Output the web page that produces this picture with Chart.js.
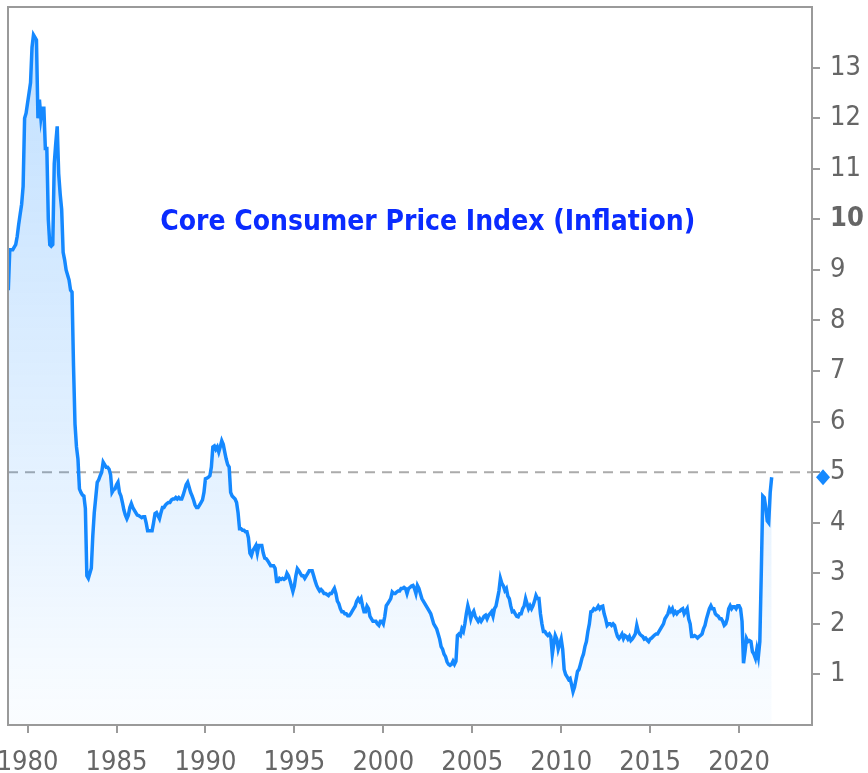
<!DOCTYPE html>
<html>
<head>
<meta charset="utf-8">
<title>Core Consumer Price Index (Inflation)</title>
<script src="https://cdn.jsdelivr.net/npm/chart.js@4.4.1/dist/chart.umd.min.js"></script>
<style>
  html, body { margin: 0; padding: 0; background: #fff; }
  #wrap { width: 868px; height: 773px; }
</style>
</head>
<body>
<div id="wrap"><canvas id="cpi" width="868" height="773"></canvas></div>
<script>
// core CPI, % change year over year, one value per month starting Dec 1978
const firstYear = 1978;
const firstMonth = 12;

const cpi1970s = [
  8.6,
  9.4, 9.4, 9.4, 9.45, 9.5, 9.66, 9.9, 10.1, 10.3, 10.65, 12.0, 12.1
];
const cpi1980s = [
  12.3, 12.5, 12.7, 13.4, 13.65, 13.6, 13.55, 12.0, 12.37, 12.0, 12.2, 12.2,
  11.4, 11.4, 10.0, 9.5, 9.47, 9.5, 11.1, 11.5, 11.84, 10.9, 10.5, 10.2,
  9.35, 9.2, 9.0, 8.9, 8.8, 8.6, 8.56, 7.1, 5.95, 5.5, 5.26, 4.67,
  4.6, 4.55, 4.53, 4.28, 2.95, 2.9, 3.0, 3.1, 3.74, 4.2, 4.5, 4.8,
  4.85, 4.93, 5.0, 5.2, 5.15, 5.1, 5.1, 5.06, 4.95, 4.6, 4.65, 4.67,
  4.75, 4.8, 4.6, 4.53, 4.4, 4.25, 4.15, 4.08, 4.15, 4.3, 4.38, 4.3,
  4.25, 4.2, 4.15, 4.14, 4.12, 4.1, 4.12, 4.12, 4.0, 3.84, 3.84, 3.84,
  3.84, 4.0, 4.18, 4.2, 4.14, 4.08, 4.2, 4.3, 4.3, 4.35, 4.38, 4.4,
  4.4, 4.45, 4.47, 4.47, 4.5, 4.47, 4.5, 4.47, 4.47, 4.55, 4.65, 4.75,
  4.8, 4.7, 4.6, 4.53, 4.45, 4.35, 4.3, 4.3, 4.35, 4.4, 4.45, 4.6
];
const cpi1990s = [
  4.87, 4.88, 4.9, 4.93, 5.1, 5.5, 5.52, 5.45, 5.5, 5.4, 5.5, 5.62,
  5.55, 5.4, 5.26, 5.15, 5.1, 4.6, 4.53, 4.5, 4.47, 4.4, 4.2, 3.88,
  3.88, 3.85, 3.85, 3.82, 3.82, 3.7, 3.4, 3.35, 3.45, 3.5, 3.55, 3.4,
  3.55, 3.55, 3.55, 3.4, 3.3, 3.29, 3.25, 3.2, 3.15, 3.15, 3.15, 3.1,
  2.84, 2.84, 2.9, 2.88, 2.9, 2.88, 2.9, 3.0, 2.95, 2.86, 2.75, 2.64,
  2.75, 2.95, 3.09, 3.05, 3.0, 2.95, 2.95, 2.9, 2.95, 3.0, 3.05, 3.05,
  3.05, 2.95, 2.85, 2.76, 2.7, 2.65, 2.68, 2.65, 2.6, 2.6, 2.58, 2.56,
  2.6, 2.6, 2.65, 2.7, 2.6, 2.45, 2.4, 2.3, 2.24, 2.24, 2.2, 2.2,
  2.16, 2.16, 2.2, 2.25, 2.3, 2.35, 2.45, 2.5, 2.45, 2.5, 2.35, 2.24,
  2.24, 2.35, 2.3, 2.15, 2.1, 2.05, 2.05, 2.05, 2.0, 1.97, 2.05, 2.05
];
const cpi2000s = [
  2.0, 2.15, 2.36, 2.4, 2.45, 2.5, 2.63, 2.6, 2.6, 2.63, 2.65, 2.65,
  2.7, 2.7, 2.72, 2.7, 2.6, 2.7, 2.72, 2.75, 2.76, 2.7, 2.6, 2.76,
  2.7, 2.6, 2.5, 2.45, 2.4, 2.35, 2.3, 2.25, 2.2, 2.1, 2.0, 1.95,
  1.9, 1.8, 1.7, 1.55, 1.5, 1.4, 1.35, 1.25, 1.2, 1.18, 1.2, 1.26,
  1.2, 1.26, 1.77, 1.8, 1.77, 1.9, 1.85, 2.0, 2.2, 2.36, 2.25, 2.1,
  2.2, 2.25, 2.15, 2.1, 2.05, 2.1, 2.05, 2.1, 2.15, 2.17, 2.1, 2.17,
  2.2, 2.24, 2.15, 2.3, 2.35, 2.5, 2.65, 2.9, 2.8, 2.75, 2.66, 2.7,
  2.55, 2.5, 2.35, 2.24, 2.25, 2.2, 2.15, 2.14, 2.2, 2.2, 2.3, 2.35,
  2.5, 2.4, 2.3, 2.36, 2.3, 2.36, 2.45, 2.56, 2.5, 2.5, 2.2, 2.0,
  1.85, 1.85, 1.8, 1.77, 1.8, 1.75, 1.4, 1.6, 1.77, 1.7, 1.5, 1.6
];
const cpi2010s = [
  1.7, 1.5, 1.1, 1.0, 0.95, 0.9, 0.92, 0.8, 0.66, 0.75, 0.9, 1.06,
  1.1, 1.2, 1.32, 1.4, 1.55, 1.65, 1.85, 2.0, 2.24, 2.25, 2.3, 2.28,
  2.3, 2.35, 2.3, 2.34, 2.35, 2.2, 2.1, 1.97, 2.0, 2.0, 1.97, 2.0,
  1.97, 1.85, 1.75, 1.71, 1.75, 1.8, 1.71, 1.77, 1.75, 1.7, 1.75, 1.67,
  1.7, 1.75, 1.8, 1.97, 1.85, 1.8, 1.77, 1.75, 1.7, 1.72, 1.68, 1.65,
  1.7, 1.72, 1.75, 1.78, 1.8, 1.8, 1.85, 1.9, 1.95, 2.0, 2.1, 2.15,
  2.2, 2.3, 2.25, 2.3, 2.2, 2.24, 2.2, 2.24, 2.25, 2.28, 2.3, 2.2,
  2.25, 2.3, 2.1, 2.0, 1.75, 1.75, 1.77, 1.75, 1.72, 1.75, 1.77, 1.8,
  1.9, 1.97, 2.1, 2.2, 2.3, 2.36, 2.3, 2.3, 2.2, 2.17, 2.15, 2.1,
  2.1, 2.05, 1.97, 2.0, 2.1, 2.3, 2.36, 2.3, 2.34, 2.34, 2.3, 2.36
];
const cpi2020s = [
  2.36, 2.3, 2.05, 1.22, 1.45, 1.71, 1.65, 1.67, 1.65, 1.45, 1.4, 1.32,
  1.5, 1.35, 1.65, 3.03, 4.53, 4.5, 4.3, 4.04, 4.0, 4.6, 4.9
];

const yearTicks = [1980, 1985, 1990, 1995, 2000, 2005, 2010, 2015, 2020];
const rateTicks = [1, 2, 3, 4, 5, 6, 7, 8, 9, 10, 11, 12, 13];
const refLevel = 5;
const chartTitle = 'Core Consumer Price Index (Inflation)';

const coreCpi = [].concat(cpi1970s, cpi1980s, cpi1990s, cpi2000s, cpi2010s, cpi2020s);
const points = coreCpi.map((v, i) => ({ x: firstYear + (firstMonth - 1 + i) / 12, y: v }));

const fontFamily = "'DejaVu Sans Condensed', 'DejaVu Sans', sans-serif";
const lineBlue = '#1589ff';
const frameGray = '#9a9a9a';

// no extra room for overhanging tick labels, the frame sits at the layout padding
function fixAxis(s, size) {
    if (s.isHorizontal()) s.height = size; else s.width = size;
    s.paddingLeft = 0;
    s.paddingRight = 0;
    s.paddingTop = 0;
    s.paddingBottom = 0;
}

// dashed 5% line, plot frame, title and the last-value diamond
const extras = {
    id: 'extras',
    beforeDatasetsDraw(chart) {
        const { ctx, chartArea: a, scales } = chart;
        const y = scales.y.getPixelForValue(refLevel);
        ctx.save();
        ctx.setLineDash([10, 7]);
        ctx.strokeStyle = '#ababab';
        ctx.lineWidth = 2;
        ctx.beginPath();
        ctx.moveTo(a.left, y);
        ctx.lineTo(a.right, y);
        ctx.stroke();
        ctx.restore();
    },
    afterDatasetsDraw(chart) {
        const { ctx, chartArea: a, scales } = chart;
        ctx.save();
        ctx.strokeStyle = frameGray;
        ctx.lineWidth = 2;
        ctx.strokeRect(a.left, a.top, a.right - a.left, a.bottom - a.top);

        ctx.fillStyle = '#0a2bff';
        ctx.font = "bold 28px " + fontFamily;
        ctx.textAlign = 'center';
        ctx.textBaseline = 'middle';
        ctx.fillText(chartTitle, a.left + (a.right - a.left) * 0.522, a.top + (a.bottom - a.top) * 0.3);

        const last = coreCpi[coreCpi.length - 1];
        const dy = scales.y.getPixelForValue(last);
        const dx = a.right + 11;
        ctx.fillStyle = lineBlue;
        ctx.beginPath();
        ctx.moveTo(dx - 7, dy);
        ctx.lineTo(dx, dy - 8);
        ctx.lineTo(dx + 7, dy);
        ctx.lineTo(dx, dy + 8);
        ctx.closePath();
        ctx.fill();
        ctx.restore();
    }
};

const ctx = document.getElementById('cpi').getContext('2d');
const cpiChart = new Chart(ctx, {
    type: 'line',
    data: {
        datasets: [{
            label: 'Core CPI',
            data: points,
            borderColor: lineBlue,
            borderWidth: 3.5,
            pointRadius: 0,
            tension: 0,
            fill: 'origin',
            backgroundColor: (c) => {
                const area = c.chart.chartArea;
                if (!area) return 'rgba(21,137,255,0.1)';
                const g = c.chart.ctx.createLinearGradient(0, area.top, 0, area.bottom);
                g.addColorStop(0, 'rgba(21,137,255,0.27)');
                g.addColorStop(0.7, 'rgba(21,137,255,0.1)');
                g.addColorStop(1, 'rgba(21,137,255,0.02)');
                return g;
            }
        }]
    },
    options: {
        responsive: false,
        animation: false,
        devicePixelRatio: 1,
        layout: { padding: { left: 8, top: 7, right: 0, bottom: 0 } },
        plugins: {
            legend: { display: false },
            tooltip: { enabled: false }
        },
        scales: {
            x: {
                type: 'linear',
                min: 1978.9,
                max: 2024.1,
                afterBuildTicks: (s) => { s.ticks = yearTicks.map(v => ({ value: v })); },
                afterFit: (s) => fixAxis(s, 48),
                border: { display: false },
                grid: { drawOnChartArea: false, tickLength: 8, color: frameGray, lineWidth: 2 },
                ticks: {
                    autoSkip: false,
                    maxRotation: 0,
                    padding: 14,
                    color: '#666',
                    font: { family: fontFamily, size: 27 },
                    callback: (v) => String(v)
                }
            },
            y: {
                position: 'right',
                min: 0,
                max: 14.2,
                afterBuildTicks: (s) => { s.ticks = rateTicks.map(v => ({ value: v })); },
                afterFit: (s) => fixAxis(s, 56),
                border: { display: false },
                grid: { drawOnChartArea: false, tickLength: 8, color: frameGray, lineWidth: 2 },
                ticks: {
                    padding: 10,
                    color: '#666',
                    font: (c) => ({
                        family: fontFamily,
                        size: 27,
                        weight: c.tick && c.tick.value === 10 ? 'bold' : 'normal'
                    }),
                    callback: (v) => String(v)
                }
            }
        }
    },
    plugins: [extras]
});
</script>
</body>
</html>
